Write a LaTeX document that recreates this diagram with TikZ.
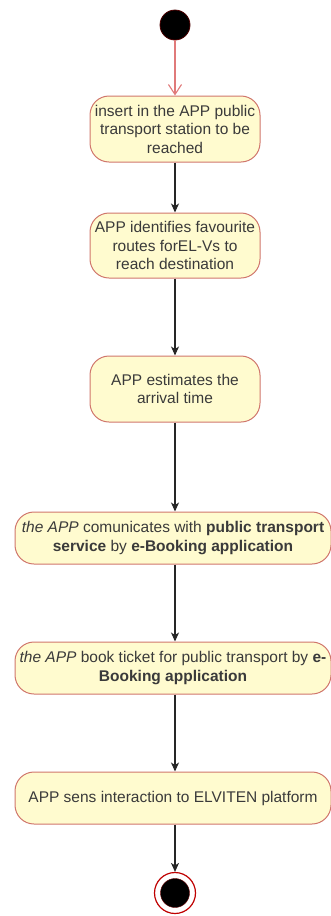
\documentclass[tikz,border=0pt]{standalone}
\usepackage{fontspec}
\setmainfont{Liberation Sans}
\usetikzlibrary{arrows.meta}
\definecolor{actfill}{HTML}{FFFBCF}
\definecolor{actline}{HTML}{D0766C}
\definecolor{acttext}{HTML}{3A3A3A}
\definecolor{startline}{HTML}{E07A7A}
\tikzset{
  activity/.style={draw=actline, fill=actfill, line width=1pt,
    rounded corners=19pt, align=center, inner sep=1pt,
    text=acttext, font=\fontsize{15.5}{18.5}\selectfont},
  narrowact/.style={activity, minimum width=170pt},
  wideact/.style={activity, minimum width=316pt, minimum height=52pt},
  flow/.style={draw=black!85, line width=1.1pt, -{Stealth[length=9pt,width=8pt,inset=2.5pt]}},
  initflow/.style={draw=startline, line width=1.1pt, -{Straight Barb[length=10pt,width=13pt]}},
}
\begin{document}
\begin{tikzpicture}[x=1pt,y=-1pt]
  \useasboundingbox (0,0) rectangle (331,916);

  % initial and final states
  \node[circle, fill=black, draw=black!70!red, line width=0.8pt,
        minimum size=30pt, inner sep=0pt] (start) at (175,25) {};
  \node[circle, draw=red!75!black, fill=white, line width=1.2pt,
        minimum size=41pt, inner sep=0pt] (final) at (175,893) {};
  \node[circle, fill=black, draw=black!60!red, minimum size=29pt, inner sep=0pt] (finaldot) at (final.center) {};

  % activities
  \node[narrowact, minimum height=66pt] (a1) at (175,129)
    {insert in the APP public\\transport station to be\\reached};
  \node[narrowact, minimum height=65pt] (a2) at (175,245.5)
    {APP identifies favourite\\routes forEL-Vs to\\reach destination};
  \node[narrowact, minimum height=66pt] (a3) at (175,389)
    {APP estimates the\\arrival time};
  \node[wideact] (a4) at (173,538)
    {\textit{the APP} comunicates with \textbf{public transport}\\
     \textbf{service} by \textbf{e-Booking application}};
  \node[wideact] (a5) at (173,668)
    {\textit{the APP} book ticket for public transport by \textbf{e-}\\
     \textbf{Booking application}};
  \node[wideact] (a6) at (173,798)
    {APP sens interaction to ELVITEN platform};

  % transitions
  \draw[initflow] (start) -- (a1);
  \draw[flow] (a1) -- (a2);
  \draw[flow] (a2) -- (a3);
  \draw[flow] (a3.south) -- (a4.north -| a3.south);
  \draw[flow] (a4.south -| a3.south) -- (a5.north -| a3.south);
  \draw[flow] (a5.south -| a3.south) -- (a6.north -| a3.south);
  \draw[flow] (a6.south -| final.north) -- (final.north);
\end{tikzpicture}
\end{document}
